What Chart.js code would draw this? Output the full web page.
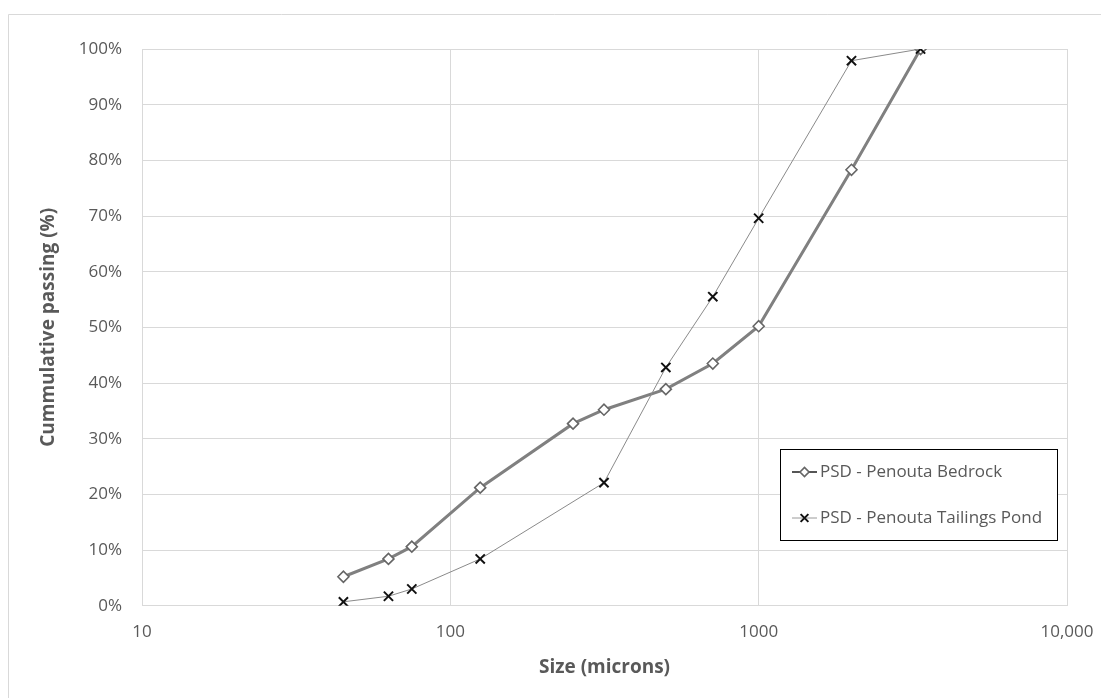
<!DOCTYPE html>
<html>
<head>
<meta charset="utf-8">
<script src="https://cdn.jsdelivr.net/npm/chart.js@4.4.1/dist/chart.umd.min.js"></script>
<style>
  html, body { margin: 0; padding: 0; background: #ffffff; }
  #wrap { width: 1110px; height: 698px; position: relative; }
</style>
</head>
<body>
<div id="wrap"><canvas id="c" width="1110" height="698"></canvas></div>
<script>
// ---- Data ----
const bedrockSizes   = [45, 63, 75, 125, 250, 315, 500, 710, 1000, 2000, 3350];
const bedrockPassing = [5.2, 8.4, 10.6, 21.2, 32.7, 35.2, 38.9, 43.5, 50.2, 78.3, 100];
const tailingsSizes   = [45, 63, 75, 125, 315, 500, 710, 1000, 2000, 3350];
const tailingsPassing = [0.7, 1.7, 3.0, 8.4, 22.1, 42.8, 55.5, 69.6, 97.9, 100];
const xTickValues = [10, 100, 1000, 10000];
const xTickLabels = ['10', '100', '1000', '10,000'];
const seriesNames = ['PSD - Penouta Bedrock', 'PSD - Penouta Tailings Pond'];
const xTitle = 'Size (microns)';
const yTitle = 'Cummulative passing (%)';

const FONT = "'Open Sans', 'Liberation Sans', sans-serif";
const textColor = '#595959';
const gridColor = '#d9d9d9';

function toPoints(xs, ys) { return xs.map((x, i) => ({ x: x, y: ys[i] })); }

const frame = {
  id: 'frame',
  beforeDraw(chart) {
    const ctx = chart.ctx;
    ctx.save();
    ctx.fillStyle = '#ffffff';
    ctx.fillRect(0, 0, chart.width, chart.height);
    ctx.strokeStyle = gridColor;
    ctx.lineWidth = 1;
    ctx.beginPath();
    ctx.moveTo(8.5, 698);
    ctx.lineTo(8.5, 14.5);
    ctx.lineTo(1101, 14.5);
    ctx.stroke();
    ctx.restore();
  }
};

const boxLegend = {
  id: 'boxLegend',
  afterDatasetsDraw(chart) {
    const ctx = chart.ctx;
    const bx = 780.5, by = 449.5, bw = 277, bh = 91;
    ctx.save();
    ctx.fillStyle = '#ffffff';
    ctx.fillRect(bx, by, bw, bh);
    ctx.strokeStyle = '#000000';
    ctx.lineWidth = 1;
    ctx.strokeRect(bx, by, bw, bh);
    const rows = [472, 518];
    chart.data.datasets.forEach((ds, i) => {
      const y = rows[i];
      ctx.strokeStyle = i === 0 ? '#555555' : '#9a9a9a';
      ctx.lineWidth = i === 0 ? 2 : 1;
      ctx.beginPath();
      ctx.moveTo(792, y);
      ctx.lineTo(817, y);
      ctx.stroke();
      ctx.fillStyle = ds.pointBackgroundColor;
      ctx.strokeStyle = ds.pointBorderColor;
      ctx.lineWidth = ds.pointBorderWidth;
      Chart.helpers.drawPoint(ctx, {
        pointStyle: ds.pointStyle,
        radius: i === 0 ? 4.5 : 5.5,
        borderWidth: ds.pointBorderWidth,
        rotation: 0
      }, 804.5, y);
      ctx.fillStyle = textColor;
      ctx.font = '17px ' + FONT;
      ctx.textBaseline = 'middle';
      ctx.textAlign = 'left';
      ctx.fillText(ds.label, 820, y);
    });
    ctx.restore();
  }
};

const chart = new Chart(document.getElementById('c'), {
  type: 'line',
  data: {
    datasets: [
      {
        label: seriesNames[0],
        data: toPoints(bedrockSizes, bedrockPassing),
        borderColor: '#808080',
        borderWidth: 3,
        pointStyle: 'rectRot',
        pointRadius: 5.5,
        pointBorderWidth: 1.6,
        pointBackgroundColor: '#ffffff',
        pointBorderColor: '#666666',
        tension: 0,
        order: 1
      },
      {
        label: seriesNames[1],
        data: toPoints(tailingsSizes, tailingsPassing),
        borderColor: '#8a8a8a',
        borderWidth: 1,
        pointStyle: 'crossRot',
        pointRadius: 6.5,
        pointBorderWidth: 2,
        pointBackgroundColor: '#000000',
        pointBorderColor: '#111111',
        tension: 0,
        order: 0
      }
    ]
  },
  options: {
    responsive: false,
    animation: false,
    devicePixelRatio: 1,
    layout: { padding: { left: 0, top: 49, right: 43, bottom: 0 } },
    plugins: { legend: { display: false }, tooltip: { enabled: false } },
    scales: {
      x: {
        type: 'logarithmic',
        min: 10,
        max: 10000,
        afterBuildTicks(scale) { scale.ticks = xTickValues.map(v => ({ value: v })); },
        afterFit(scale) { scale.height = 92.3; },
        ticks: {
          autoSkip: false,
          maxRotation: 0,
          padding: 16,
          color: textColor,
          font: { family: FONT, size: 17 },
          callback(value) { const i = xTickValues.indexOf(value); return i >= 0 ? xTickLabels[i] : ''; }
        },
        grid: { color: gridColor, lineWidth: 1, drawTicks: false },
        border: { color: gridColor, width: 1 },
        title: {
          display: true,
          text: xTitle,
          color: textColor,
          font: { family: FONT, size: 19, weight: 'bold' },
          padding: { top: 0, bottom: 19 }
        }
      },
      y: {
        min: 0,
        max: 100,
        afterFit(scale) { scale.width = 142; },
        ticks: {
          stepSize: 10,
          padding: 20,
          color: textColor,
          font: { family: FONT, size: 17 },
          callback(value) { return value + '%'; }
        },
        grid: { color: gridColor, lineWidth: 1, drawTicks: false },
        border: { color: gridColor, width: 1 },
        title: {
          display: true,
          text: yTitle,
          color: textColor,
          font: { family: FONT, size: 19, weight: 'bold' },
          padding: { top: 37, bottom: 0 }
        }
      }
    }
  },
  plugins: [frame, boxLegend]
});
</script>
</body>
</html>
